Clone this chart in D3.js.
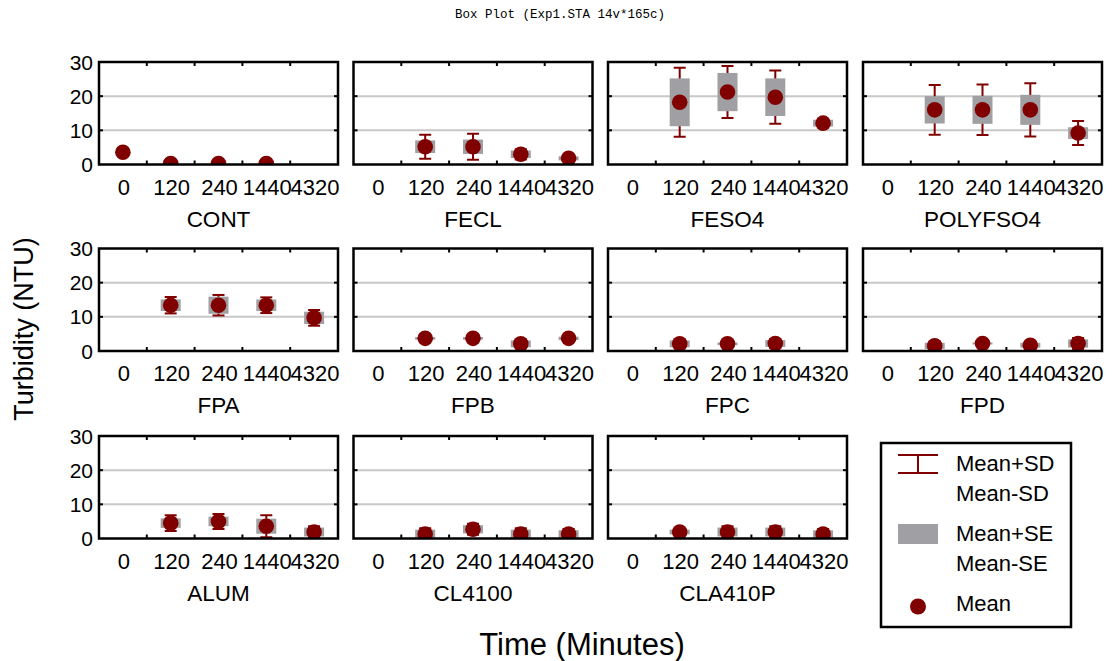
<!DOCTYPE html>
<html>
<head>
<meta charset="utf-8">
<script src="https://cdn.jsdelivr.net/npm/d3@7"></script>
<style>
  body { margin: 0; background: #fff; }
  text { font-family: "Liberation Sans", Arial, sans-serif; fill: #000; }
</style>
</head>
<body>
<div id="chart"></div>
<script>
// define constants
const W = 1112;
const H = 661;
const panelW = 239;
const panelH = 102.5;
const colLeft = [99, 353.5, 608, 863];
const rowTop = [62, 248.5, 436];
const darkRed = "#800000";
const boxGray = "#a0a0a4";

// data
const times = ["0", "120", "240", "1440", "4320"];
const groups = ["CONT", "FECL", "FESO4", "POLYFSO4", "FPA", "FPB", "FPC", "FPD", "ALUM", "CL4100", "CLA410P"];
const yTicks = [0, 10, 20, 30];

const meanVals = [
    [3.6, 0.3, 0.3, 0.3, null],
    [null, 5.2, 5.2, 3.0, 1.8],
    [null, 18.2, 21.2, 19.7, 12.1],
    [null, 16.0, 16.0, 16.0, 9.2],
    [null, 13.4, 13.4, 13.4, 9.7],
    [null, 3.7, 3.7, 2.1, 3.7],
    [null, 2.1, 2.1, 2.2, null],
    [null, 1.5, 2.2, 1.7, 2.2],
    [null, 4.5, 5.0, 3.6, 1.9],
    [null, 1.3, 2.7, 1.3, 1.3],
    [null, 1.9, 1.9, 1.9, 1.3]
];
const seVals = [
    [0, 0, 0, 0, null],
    [null, 1.85, 2.1, 1.1, 0.6],
    [null, 7.0, 5.6, 5.5, 1.0],
    [null, 4.0, 4.1, 4.4, 1.7],
    [null, 1.7, 2.5, 1.7, 1.8],
    [null, 0.4, 0.4, 1.0, 0.5],
    [null, 1.0, 0.4, 1.0, null],
    [null, 0.9, 0.3, 0.7, 1.2],
    [null, 1.4, 1.4, 2.2, 1.3],
    [null, 1.3, 1.2, 1.3, 1.1],
    [null, 0.7, 1.3, 1.3, 1.1]
];
const sdVals = [
    [0, 0, 0, 0, null],
    [null, 3.5, 3.8, 1.5, 0.8],
    [null, 10.1, 7.6, 7.8, 1.3],
    [null, 7.3, 7.4, 7.8, 3.5],
    [null, 2.4, 3.0, 2.3, 2.3],
    [null, 0.6, 0.6, 1.3, 0.7],
    [null, 1.3, 0.6, 1.3, null],
    [null, 1.2, 0.5, 1.0, 1.6],
    [null, 2.3, 2.2, 3.2, 1.7],
    [null, 1.7, 1.6, 1.7, 1.5],
    [null, 0.9, 1.7, 1.7, 1.5]
];

const svg = d3.select("#chart").append("svg").attr("width", W).attr("height", H);

// title
svg.append("text")
    .attr("x", 560).attr("y", 18)
    .attr("text-anchor", "middle")
    .style("font-family", "'Liberation Mono', monospace")
    .style("font-size", "12.5px")
    .attr("fill", "#333")
    .text("Box Plot (Exp1.STA 14v*165c)");

// scales shared by every panel
const x = d3.scaleBand().domain(times).range([0, panelW]);
const y = d3.scaleLinear().domain([0, 30]).range([panelH, 0]);

groups.forEach((g, gi) => {
    const col = gi % 4, row = Math.floor(gi / 4);
    const p = svg.append("g").attr("transform", `translate(${colLeft[col]},${rowTop[row]})`);

    // clip to the plot area
    p.append("clipPath").attr("id", "clip" + gi)
        .append("rect").attr("width", panelW).attr("height", panelH);

    // gridlines
    p.selectAll(".grid").data([10, 20]).join("line")
        .attr("x1", 0).attr("x2", panelW)
        .attr("y1", d => y(d)).attr("y2", d => y(d))
        .attr("stroke", "#c8c8c8").attr("stroke-width", 2);

    const marks = p.append("g").attr("clip-path", `url(#clip${gi})`);
    const pts = times.map((t, i) => ({ t, m: meanVals[gi][i], se: seVals[gi][i], sd: sdVals[gi][i] }))
        .filter(d => d.m != null);

    // SD whiskers
    pts.filter(d => d.sd > 0).forEach(d => {
        const cx = x(d.t) + x.bandwidth() / 2;
        const w = marks.append("g").attr("stroke", darkRed).attr("stroke-width", 2).attr("fill", "none");
        w.append("line").attr("x1", cx).attr("x2", cx).attr("y1", y(d.m + d.sd)).attr("y2", y(d.m - d.sd));
        [d.m + d.sd, d.m - d.sd].forEach(v => {
            w.append("line").attr("x1", cx - 6).attr("x2", cx + 6).attr("y1", y(v)).attr("y2", y(v));
        });
    });

    // SE boxes
    marks.selectAll(".se").data(pts.filter(d => d.se > 0)).join("rect")
        .attr("x", d => x(d.t) + x.bandwidth() / 2 - 10)
        .attr("width", 20)
        .attr("y", d => y(d.m + d.se))
        .attr("height", d => y(d.m - d.se) - y(d.m + d.se))
        .attr("fill", boxGray);

    // means
    marks.selectAll(".mean").data(pts).join("circle")
        .attr("cx", d => x(d.t) + x.bandwidth() / 2)
        .attr("cy", d => y(d.m))
        .attr("r", 7.8)
        .attr("fill", darkRed);

    // inside tick marks
    const bounds = times.slice(1).map(t => x(t));
    const ticks = p.append("g").attr("stroke", "#000").attr("stroke-width", 2);
    bounds.forEach(bx => {
        ticks.append("line").attr("x1", bx).attr("x2", bx).attr("y1", 0).attr("y2", 4);
        ticks.append("line").attr("x1", bx).attr("x2", bx).attr("y1", panelH).attr("y2", panelH - 4);
    });
    [10, 20].forEach(v => {
        ticks.append("line").attr("x1", 0).attr("x2", 4).attr("y1", y(v)).attr("y2", y(v));
        ticks.append("line").attr("x1", panelW).attr("x2", panelW - 4).attr("y1", y(v)).attr("y2", y(v));
    });

    // frame
    p.append("rect").attr("width", panelW).attr("height", panelH)
        .attr("fill", "none").attr("stroke", "#000").attr("stroke-width", 2.5);

    // x labels
    p.selectAll(".xl").data(times).join("text")
        .attr("x", d => x(d) + x.bandwidth() / 2 + 1)
        .attr("y", panelH + 30)
        .attr("text-anchor", "middle")
        .style("font-size", "22px")
        .text(d => d);

    p.append("text")
        .attr("x", panelW / 2).attr("y", panelH + 62)
        .attr("text-anchor", "middle")
        .style("font-size", "22.5px")
        .text(g);

    // y labels in first column
    if (col === 0) {
        p.selectAll(".yl").data(yTicks).join("text")
            .attr("x", -6).attr("y", d => y(d) + 7.5)
            .attr("text-anchor", "end")
            .style("font-size", "21px")
            .text(d => d);
    }
});

// axis titles
svg.append("text")
    .attr("transform", "translate(33,329) rotate(-90)")
    .attr("text-anchor", "middle")
    .style("font-size", "27px")
    .text("Turbidity (NTU)");

svg.append("text")
    .attr("x", 582).attr("y", 655)
    .attr("text-anchor", "middle")
    .style("font-size", "31px")
    .text("Time (Minutes)");

// legend
const lg = svg.append("g").attr("transform", "translate(881,443)");
lg.append("rect").attr("width", 190).attr("height", 184)
    .attr("fill", "#fff").attr("stroke", "#000").attr("stroke-width", 2.5);
const sdSym = lg.append("g").attr("stroke", darkRed).attr("stroke-width", 2);
sdSym.append("line").attr("x1", 17).attr("x2", 57).attr("y1", 12).attr("y2", 12);
sdSym.append("line").attr("x1", 17).attr("x2", 57).attr("y1", 30).attr("y2", 30);
sdSym.append("line").attr("x1", 37).attr("x2", 37).attr("y1", 12).attr("y2", 30);
lg.append("rect").attr("x", 17).attr("y", 81).attr("width", 40).attr("height", 20).attr("fill", boxGray);
lg.append("circle").attr("cx", 37).attr("cy", 163.5).attr("r", 8).attr("fill", darkRed);

const legendLabels = ["Mean+SD", "Mean-SD", "Mean+SE", "Mean-SE", "Mean"];
const legendY = [28, 58, 98, 128, 168];
lg.selectAll(".lt").data(legendLabels).join("text")
    .attr("x", 75).attr("y", (d, i) => legendY[i])
    .style("font-size", "22px")
    .text(d => d);
</script>
</body>
</html>
